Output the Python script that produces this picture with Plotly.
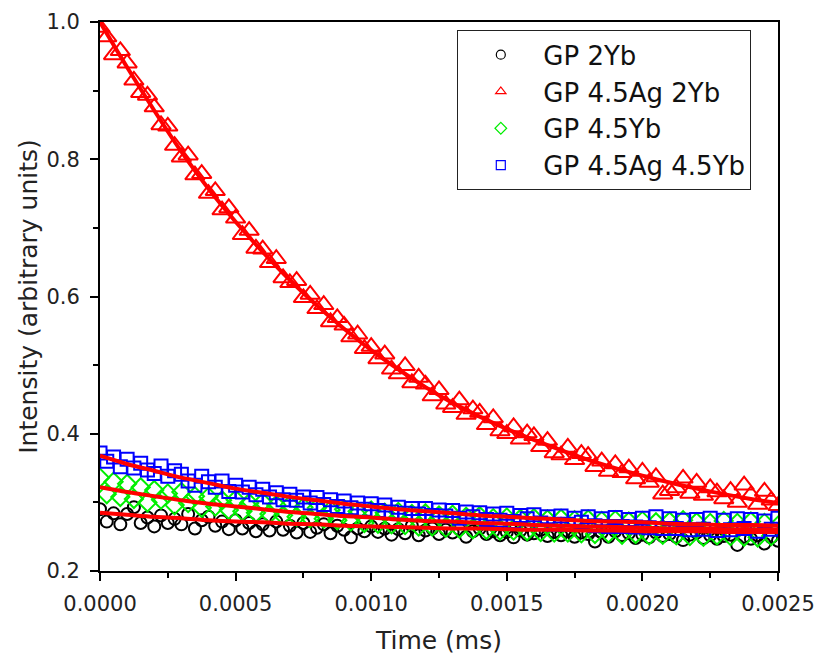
import plotly.graph_objects as go

# time axis (in units of 1e-6 ms)
time_us = [0, 25, 50, 75, 100, 125, 150, 175, 200, 225, 250, 275, 300, 325, 350, 375, 400, 425, 450, 475,
           500, 525, 550, 575, 600, 625, 650, 675, 700, 725, 750, 775, 800, 825, 850, 875, 900, 925, 950, 975,
           1000, 1025, 1050, 1075, 1100, 1125, 1150, 1175, 1200, 1225, 1250, 1275, 1300, 1325, 1350, 1375,
           1400, 1425, 1450, 1475, 1500, 1525, 1550, 1575, 1600, 1625, 1650, 1675, 1700, 1725, 1750, 1775,
           1800, 1825, 1850, 1875, 1900, 1925, 1950, 1975, 2000, 2025, 2050, 2075, 2100, 2125, 2150, 2175,
           2200, 2225, 2250, 2275, 2300, 2325, 2350, 2375, 2400, 2425, 2450, 2475, 2500]
fit_time_us = [0, 100, 200, 300, 400, 500, 600, 700, 800, 900, 1000, 1100, 1200, 1300, 1400, 1500,
               1600, 1700, 1800, 1900, 2000, 2100, 2200, 2300, 2400, 2500]

gp_2yb = [.290, .272, .284, .268, .283, .293, .270, .278, .265, .281, .270, .276, .268, .283, .262, .274,
          .279, .266, .272, .261, .274, .262, .270, .258, .268, .259, .272, .260, .266, .256, .270, .257,
          .263, .268, .255, .266, .260, .249, .262, .258, .265, .257, .262, .253, .261, .255, .266, .252,
          .259, .262, .254, .260, .256, .261, .250, .258, .262, .254, .258, .252, .257, .249, .259, .253,
          .255, .260, .251, .257, .252, .258, .250, .256, .254, .243, .256, .250, .258, .252, .255, .248,
          .253, .249, .256, .251, .254, .250, .245, .253, .256, .248, .252, .247, .251, .253, .238, .250,
          .247, .252, .240, .249, .244]

gp_45ag_2yb = [.992, .978, .952, .958, .940, .915, .897, .893, .876, .850, .848, .820, .803, .806, .777, .779,
               .750, .754, .726, .729, .714, .690, .696, .670, .669, .649, .655, .627, .620, .623, .598, .603,
               .582, .588, .563, .569, .558, .541, .545, .524, .527, .509, .516, .494, .487, .499, .474, .482,
               .472, .455, .464, .443, .438, .449, .428, .436, .431, .413, .423, .404, .400, .410, .392, .401,
               .397, .381, .390, .372, .369, .380, .362, .371, .368, .352, .360, .345, .356, .343, .350, .334,
               .345, .329, .337, .312, .317, .321, .335, .313, .329, .310, .321, .315, .305, .317, .300, .325,
               .311, .297, .316, .303, .295]

gp_45yb = [.336, .312, .330, .308, .327, .305, .322, .300, .318, .304, .313, .296, .315, .299, .309, .292,
           .308, .294, .303, .289, .304, .287, .299, .285, .300, .283, .296, .281, .296, .279, .293, .277,
           .292, .276, .289, .274, .290, .272, .287, .270, .288, .269, .285, .268, .286, .267, .283, .265,
           .284, .265, .281, .263, .282, .262, .279, .261, .280, .260, .277, .259, .278, .259, .276, .258,
           .277, .257, .275, .256, .276, .256, .274, .255, .275, .254, .273, .255, .274, .253, .272, .254,
           .273, .252, .271, .253, .272, .252, .274, .251, .271, .250, .270, .252, .273, .251, .270, .250,
           .272, .249, .270, .251, .266]

gp_45ag_45yb = [.372, .360, .366, .352, .363, .350, .357, .347, .342, .353, .338, .346, .341, .331, .325, .338,
                .330, .322, .331, .316, .325, .315, .322, .311, .319, .308, .314, .304, .312, .303, .308, .299,
                .307, .297, .304, .294, .302, .292, .299, .290, .298, .288, .296, .286, .293, .284, .291, .283,
                .291, .281, .289, .280, .288, .277, .286, .279, .285, .275, .283, .274, .284, .272, .281, .276,
                .282, .270, .279, .268, .280, .268, .277, .271, .279, .266, .276, .265, .278, .265, .275, .264,
                .277, .263, .279, .262, .276, .262, .274, .260, .275, .261, .277, .259, .274, .260, .276, .262,
                .275, .258, .273, .261, .277]

fit_2yb = [0.285, 0.282, 0.279, 0.277, 0.274, 0.272, 0.271, 0.269, 0.268, 0.266, 0.265, 0.264, 0.263,
           0.262, 0.262, 0.261, 0.260, 0.260, 0.259, 0.259, 0.258, 0.258, 0.258, 0.257, 0.257, 0.257]
fit_45ag_2yb = [1.000, .934, .871, .811, .757, .709, .665, .624, .587, .553, .522, .494, .468, .445, .425,
                .407, .391, .376, .362, .350, .339, .329, .320, .312, .305, .299]
fit_45yb = [0.322, 0.315, 0.309, 0.303, 0.298, 0.294, 0.290, 0.286, 0.283, 0.280, 0.278, 0.275, 0.273,
            0.272, 0.270, 0.269, 0.267, 0.266, 0.265, 0.264, 0.263, 0.262, 0.262, 0.261, 0.261, 0.260]
fit_45ag_45yb = [0.368, 0.356, 0.346, 0.336, 0.328, 0.320, 0.314, 0.308, 0.303, 0.298, 0.294, 0.290, 0.287,
                 0.284, 0.281, 0.279, 0.277, 0.275, 0.273, 0.272, 0.271, 0.269, 0.268, 0.267, 0.267, 0.266]

labels = ["GP 2Yb", "GP 4.5Ag 2Yb", "GP 4.5Yb", "GP 4.5Ag 4.5Yb"]
x = [t * 1e-6 for t in time_us]
xf = [t * 1e-6 for t in fit_time_us]

series = [
    (labels[0], gp_2yb, "circle-open", "#000000", 12),
    (labels[1], gp_45ag_2yb, "triangle-up-open", "#ff0000", 17),
    (labels[2], gp_45yb, "diamond-open", "#00ee00", 14),
    (labels[3], gp_45ag_45yb, "square-open", "#0000ff", 13),
]
fits = [fit_2yb, fit_45ag_2yb, fit_45yb, fit_45ag_45yb]

fig = go.Figure()
for name, vals, sym, col, sz in series:
    fig.add_trace(go.Scatter(x=x, y=vals, mode="markers", name=name, showlegend=False,
                             marker=dict(symbol=sym, size=sz, color=col, line=dict(width=2, color=col))))
for f in fits:
    fig.add_trace(go.Scatter(x=xf, y=f, mode="lines", showlegend=False, line_shape="spline",
                             line=dict(color="#ff0000", width=4)))
# legend entries
for name, vals, sym, col, sz in series:
    fig.add_trace(go.Scatter(x=[None], y=[None], mode="markers", name=name,
                             marker=dict(symbol=sym, size=9, color=col, line=dict(width=1.2, color=col))))

font = "DejaVu Sans, Liberation Sans, Arial, sans-serif"
fig.update_layout(
    width=814, height=656,
    margin=dict(l=100, r=36, t=22, b=85),
    paper_bgcolor="white", plot_bgcolor="white",
    font=dict(family=font, color="#222222", size=21),
    legend=dict(x=0.527, y=0.985, xanchor="left", yanchor="top",
                bordercolor="#222222", borderwidth=1, bgcolor="white",
                font=dict(size=26, color="#111111"), itemwidth=75, tracegroupgap=0),
    xaxis=dict(range=[0, 0.0025], tickvals=[0, 0.0005, 0.001, 0.0015, 0.002, 0.0025],
               ticktext=["0.0000", "0.0005", "0.0010", "0.0015", "0.0020", "0.0025"],
               showgrid=False, zeroline=False, showline=True, linecolor="black", linewidth=2,
               mirror=True, ticks="outside", ticklen=8, tickwidth=2, tickcolor="black",
               minor=dict(ticks="outside", ticklen=5, tickwidth=2, tickcolor="black", dtick=0.00025),
               tickfont=dict(size=21), ticklabelstandoff=5, ticklabeloverflow="allow",
               automargin=False,
               title=dict(text="Time (ms)", font=dict(size=25), standoff=16)),
    yaxis=dict(range=[0.2, 1.0], tickvals=[0.2, 0.4, 0.6, 0.8, 1.0],
               ticktext=["0.2", "0.4", "0.6", "0.8", "1.0"],
               showgrid=False, zeroline=False, showline=True, linecolor="black", linewidth=2,
               mirror=True, ticks="outside", ticklen=8, tickwidth=2, tickcolor="black",
               minor=dict(ticks="outside", ticklen=5, tickwidth=2, tickcolor="black", dtick=0.1),
               tickfont=dict(size=21), ticklabelstandoff=6, ticklabeloverflow="allow",
               automargin=False,
               title=dict(text="Intensity (arbitrary units)", font=dict(size=25), standoff=2)),
)
fig.write_html("out.html")
